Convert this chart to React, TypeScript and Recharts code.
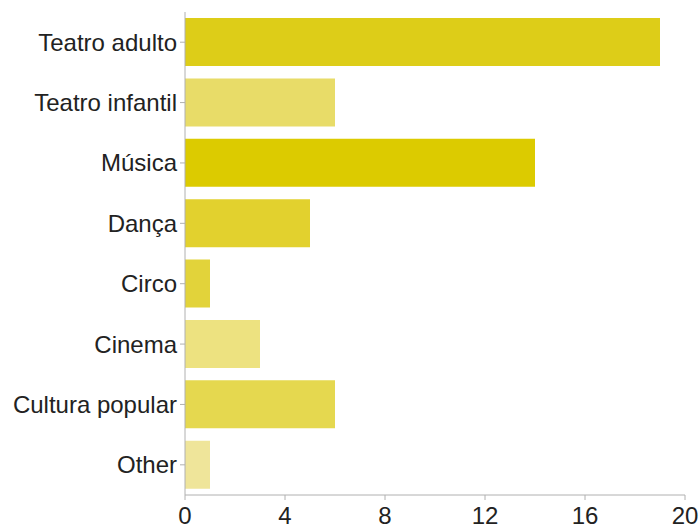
import { BarChart, Bar, XAxis, YAxis, Cell } from 'recharts';

const categories = [
  'Teatro adulto',
  'Teatro infantil',
  'Música',
  'Dança',
  'Circo',
  'Cinema',
  'Cultura popular',
  'Other',
];
const counts = [19, 6, 14, 5, 1, 3, 6, 1];
const barColors = [
  '#ddcd18',
  '#e8dc68',
  '#dccb00',
  '#e2d12e',
  '#e2d33a',
  '#ede280',
  '#e5d84f',
  '#efe59a',
];
const xTicks = [0, 4, 8, 12, 16, 20];

const data = categories.map((name, i) => ({ name, value: counts[i] }));

const tickStyle = {
  fill: '#222',
  fontSize: 24,
  fontFamily: 'Liberation Sans, Arial, Helvetica, sans-serif',
};

export default function App() {
  return (
    <div style={{ position: 'absolute', left: 0, top: 0, background: '#fff' }}>
      <BarChart
        width={699}
        height={529}
        data={data}
        layout="vertical"
        margin={{ top: 12, right: 14, bottom: 0, left: 0 }}
        barCategoryGap="10%"
      >
        <XAxis
          type="number"
          domain={[0, 20]}
          ticks={xTicks}
          height={34}
          tick={tickStyle}
          tickSize={5}
          tickMargin={7}
          axisLine={{ stroke: '#b0b0b0' }}
          tickLine={{ stroke: '#b0b0b0' }}
        />
        <YAxis
          type="category"
          dataKey="name"
          width={185}
          tick={tickStyle}
          tickSize={5}
          tickMargin={3}
          axisLine={{ stroke: '#b0b0b0' }}
          tickLine={{ stroke: '#b0b0b0' }}
          interval={0}
        />
        <Bar dataKey="value" isAnimationActive={false}>
          {data.map((d, i) => (
            <Cell key={d.name} fill={barColors[i]} />
          ))}
        </Bar>
      </BarChart>
    </div>
  );
}
